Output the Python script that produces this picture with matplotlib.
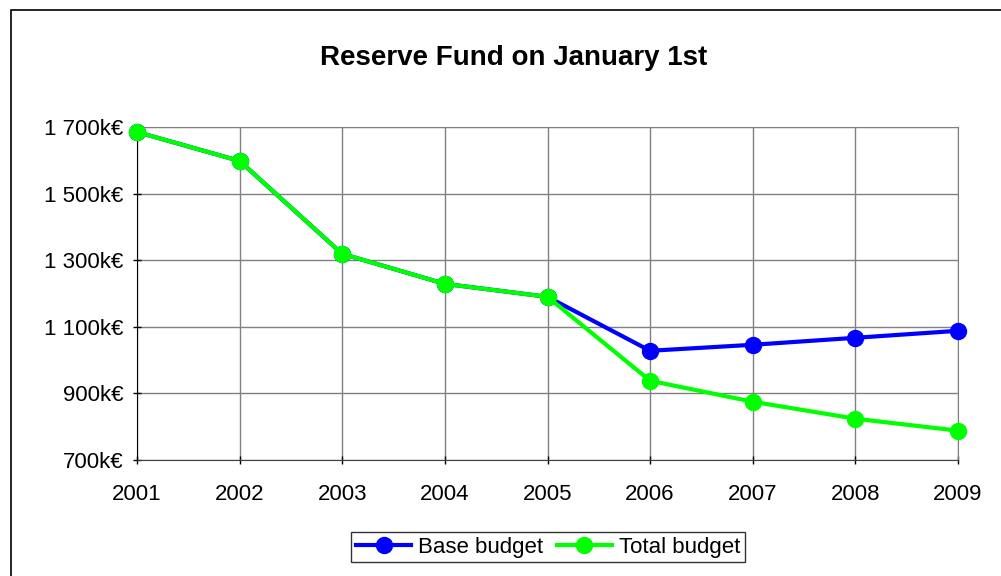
import matplotlib.pyplot as plt
from matplotlib.patches import Rectangle

years = [2001, 2002, 2003, 2004, 2005, 2006, 2007, 2008, 2009]
base_budget = [1685, 1598, 1319, 1229, 1190, 1028, 1046, 1067, 1088]
total_budget = [1685, 1598, 1319, 1229, 1190, 938, 875, 824, 788]
y_ticks = [700, 900, 1100, 1300, 1500, 1700]
y_labels = ['700k€', '900k€', '1 100k€', '1 300k€', '1 500k€', '1 700k€']

plt.rcParams['font.family'] = ['Liberation Sans', 'DejaVu Sans']

fig = plt.figure(figsize=(10.01, 5.76), dpi=100)
ax = fig.add_axes([137 / 1001, 1 - 460 / 576, (958 - 137) / 1001, (460 - 127) / 576])

# outer chart border (only top and left visible in the picture)
fig.patches.append(Rectangle((11 / 1001, -0.1), 1.2, 1 - 10 / 576 + 0.1,
                             transform=fig.transFigure, fill=False,
                             edgecolor='black', linewidth=1.2))

ax.plot(years, base_budget, color='#0000ff', linewidth=3, marker='o',
        markersize=11.5, label='Base budget', clip_on=False, zorder=3)
ax.plot(years, total_budget, color='#00ff00', linewidth=3, marker='o',
        markersize=11.5, label='Total budget', clip_on=False, zorder=4)

ax.set_xlim(2001, 2009)
ax.set_ylim(700, 1700)
ax.set_xticks(years)
ax.set_yticks(y_ticks)
ax.set_yticklabels(y_labels)
ax.tick_params(axis='both', labelsize=16, length=6, width=1, direction='inout')
ax.tick_params(axis='y', pad=7)
ax.tick_params(axis='x', pad=14)

ax.grid(True, color='#808080', linewidth=1)
ax.set_axisbelow(True)
ax.spines['left'].set_color('black')
ax.spines['bottom'].set_color('#404040')
ax.spines['top'].set_color('#808080')
ax.spines['right'].set_color('#808080')

fig.text(514 / 1001, 1 - 58 / 576, 'Reserve Fund on January 1st', ha='center',
         va='center', fontsize=20, fontweight='bold')

leg = fig.legend(loc='center', bbox_to_anchor=(548 / 1001, 1 - 547 / 576), ncol=2,
                 fontsize=16, frameon=True, fancybox=False, handlelength=2.5,
                 columnspacing=0.6, handletextpad=0.3, borderpad=0.2)
leg.get_frame().set_edgecolor('black')
leg.get_frame().set_linewidth(1)

fig.savefig('out.png', dpi=100)
